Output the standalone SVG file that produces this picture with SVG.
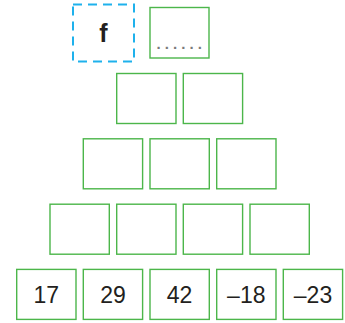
<svg xmlns="http://www.w3.org/2000/svg" width="345" height="323" viewBox="0 0 345 323">
<style>
.b{fill:#fff;stroke:#4cb64a;stroke-width:1.4}
.d{fill:#fff;stroke:#1eb1ec;stroke-width:2;stroke-dasharray:9 6}
.t{font-family:"Liberation Sans",Arial,sans-serif;font-size:23px;fill:#231f20;text-anchor:middle}
.f{font-family:"Liberation Sans",Arial,sans-serif;font-size:25px;font-weight:bold;fill:#231f20;text-anchor:middle}
.g{font-family:"Liberation Sans",Arial,sans-serif;font-size:15px;font-weight:bold;fill:#7a7a7a;letter-spacing:4.1px}
</style>
<g id="top-f"><rect class="d" x="73" y="4.5" width="61" height="57"/><text class="f" x="103.5" y="42">f</text></g>
<g id="top-dots"><rect class="b" x="150" y="7.5" width="59" height="50.5"/><text class="g" x="156.5" y="48.5">......</text></g>
<g id="r2a"><rect class="b" x="116.7" y="73.5" width="59.3" height="50"/></g>
<g id="r2b"><rect class="b" x="183.3" y="73.5" width="59.3" height="50"/></g>
<g id="r3a"><rect class="b" x="83.3" y="138.8" width="59.3" height="50"/></g>
<g id="r3b"><rect class="b" x="150" y="138.8" width="59.3" height="50"/></g>
<g id="r3c"><rect class="b" x="216.7" y="138.8" width="59.3" height="50"/></g>
<g id="r4a"><rect class="b" x="50" y="204.2" width="59.3" height="50"/></g>
<g id="r4b"><rect class="b" x="116.7" y="204.2" width="59.3" height="50"/></g>
<g id="r4c"><rect class="b" x="183.3" y="204.2" width="59.3" height="50"/></g>
<g id="r4d"><rect class="b" x="250" y="204.2" width="59.3" height="50"/></g>
<g id="n17"><rect class="b" x="16.7" y="269.4" width="59.3" height="50"/><text class="t" x="46.3" y="303.3">17</text></g>
<g id="n29"><rect class="b" x="83.3" y="269.4" width="59.3" height="50"/><text class="t" x="113" y="303.3">29</text></g>
<g id="n42"><rect class="b" x="150" y="269.4" width="59.3" height="50"/><text class="t" x="179.6" y="303.3">42</text></g>
<g id="n-18"><rect class="b" x="216.7" y="269.4" width="59.3" height="50"/><text class="t" x="246.3" y="303.3">–18</text></g>
<g id="n-23"><rect class="b" x="283.3" y="269.4" width="59.3" height="50"/><text class="t" x="313" y="303.3">–23</text></g>
<g id="connectors"/>
</svg>
